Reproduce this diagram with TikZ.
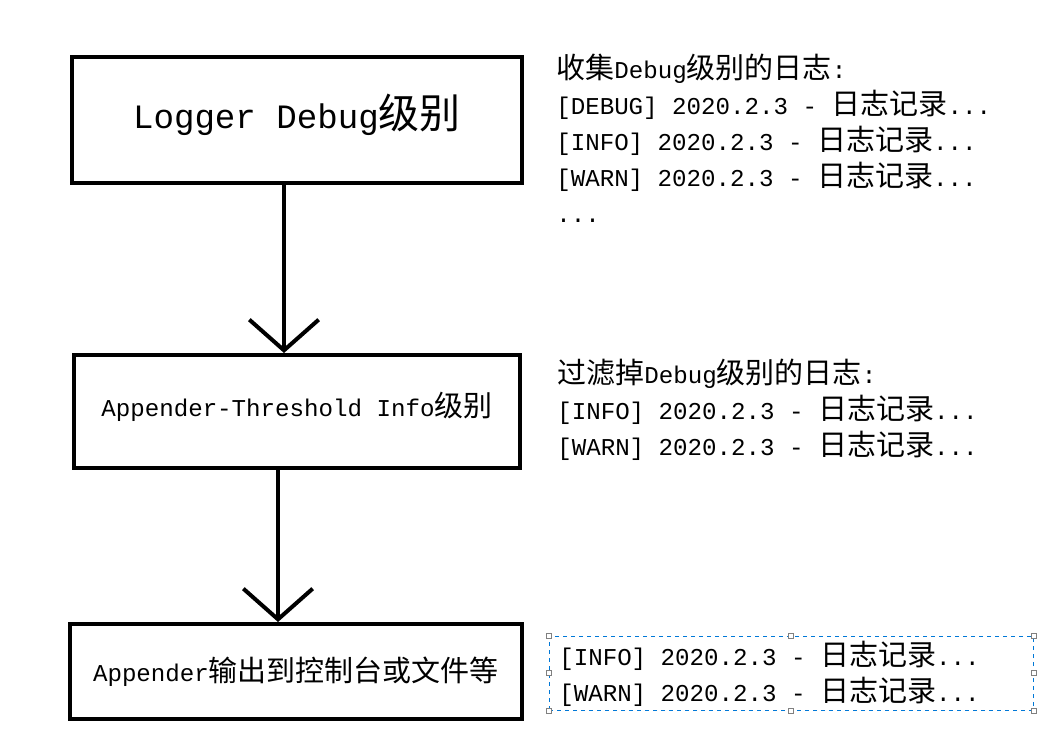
\documentclass[tikz,border=0pt]{standalone}
\usepackage{fontspec}
\setmainfont[Scale=0.833]{Liberation Mono}
\newfontfamily\cjk{Noto Sans CJK SC}
\usetikzlibrary{arrows.meta}
\newcommand\zh[1]{{\cjk #1}}
\newcommand\lift[1]{\raisebox{3.75pt}[\height][\depth]{#1}}
\begin{document}
\begin{tikzpicture}[x=0.75pt,y=-0.75pt,
  box/.style={draw=black, line width=3pt, inner sep=0pt, align=center},
  arr/.style={line width=3pt, -{Straight Barb[length=23pt, width=52pt, line width=3pt]}},
  side/.style={anchor=base west, align=left, inner sep=0pt, font=\fontsize{21.75}{27}\selectfont},
  handle/.style={draw=gray, fill=white, line width=0.5pt, minimum size=4pt, inner sep=0pt},
  sel/.style={draw={rgb,255:red,0;green,120;blue,215}, dashed, line width=0.75pt, inner sep=0pt}]
\useasboundingbox (0,0) rectangle (1056,750);
% boxes
\node[box, minimum width=337.5pt, minimum height=94.5pt, font=\fontsize{30.75}{36}\selectfont] (b1) at (297,120) {\lift{Logger Debug\zh{级别}}};
\node[box, minimum width=334.5pt, minimum height=84.75pt, font=\fontsize{21.75}{27}\selectfont] (b2) at (297,411.5) {\lift{Appender-Threshold Info\zh{级别}}};
\node[box, minimum width=339pt, minimum height=71.25pt, font=\fontsize{21.75}{27}\selectfont] (b3) at (296,671.5) {Appender\zh{输出到控制台或文件等}};
% arrows
\coordinate (ax1) at (284,0);
\coordinate (ax2) at (278,0);
\draw[arr] (b1.south -| ax1) -- (b2.north -| ax1);
\draw[arr] (b2.south -| ax2) -- (b3.north -| ax2);
% side texts (base anchor = last line)
\node[side] (t1) at (556,222) {\zh{收集}Debug\zh{级别的日志}:\\
{[}DEBUG{]} 2020.2.3 - \zh{日志记录}...\\
{[}INFO{]} 2020.2.3 - \zh{日志记录}...\\
{[}WARN{]} 2020.2.3 - \zh{日志记录}...\\
...};
\node[side] (t2) at (557,455) {\zh{过滤掉}Debug\zh{级别的日志}:\\
{[}INFO{]} 2020.2.3 - \zh{日志记录}...\\
{[}WARN{]} 2020.2.3 - \zh{日志记录}...};
\node[side] (t3) at (559,701) {{[}INFO{]} 2020.2.3 - \zh{日志记录}...\\
{[}WARN{]} 2020.2.3 - \zh{日志记录}...};
% selection frame
\node[sel, minimum width=363pt, minimum height=55.5pt] (s) at (791,673) {};
\foreach \a in {north west,north,north east,west,east,south west,south,south east}
  \node[handle] at (s.\a) {};
\end{tikzpicture}
\end{document}
